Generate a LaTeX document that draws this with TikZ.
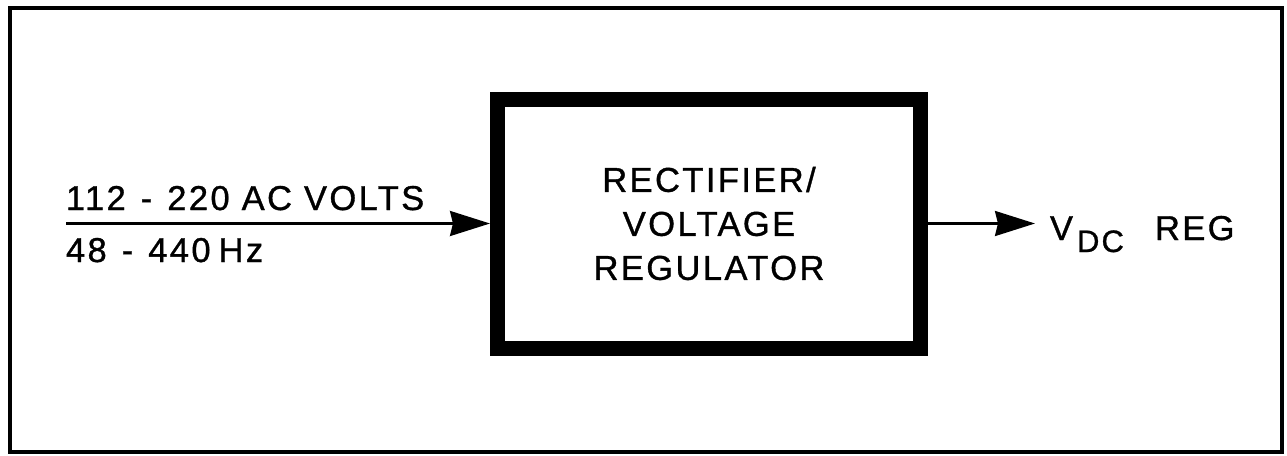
\documentclass[tikz,border=0pt]{standalone}
\usepackage{fontspec}
\setmainfont{Liberation Sans}[LetterSpace=7,FakeBold=1]
\usetikzlibrary{arrows.meta}
\tikzset{
  lbl/.style={inner sep=0pt, outer sep=0pt, font=\fontsize{34.5}{44}\selectfont},
  sublbl/.style={inner sep=0pt, outer sep=0pt, font=\fontsize{31}{34}\selectfont},
  block/.style={draw, line width=15pt, minimum width=423pt, minimum height=249pt, inner sep=0pt, align=center, font=\fontsize{34.5}{44}\selectfont},
  arr/.style={line width=2.5pt, -{Stealth[length=40pt,width=25pt,inset=3pt]}},
  frame/.style={line width=4pt}
}
\begin{document}
\begin{tikzpicture}[x=1pt,y=-1pt]
\useasboundingbox (0,0) rectangle (1287,455);
\draw[frame] (10,8) rectangle (1282,451.5);
\node[block] (box) at (709,223.5) {RECTIFIER/\\VOLTAGE\\REGULATOR};
\coordinate (start) at (66,223.5);
\coordinate (stop) at (1035,223.5);
\draw[arr] (start) -- (box.west);
\draw[arr] (box.east) -- (stop);
\node[lbl, anchor=base west] (ac) at (66,210) {112 \hspace{3pt}-\hspace{3pt} 220 AC VOLTS};
\node[lbl, anchor=base west] (hz) at (66,262) {48 \hspace{3pt}-\hspace{3pt} 440\hspace{-4pt} Hz};
\node[lbl, anchor=base west] (v) at (1050,240) {V};
\node[sublbl, anchor=base west] (dc) at (1077,252) {DC};
\node[lbl, anchor=base west] (reg) at (1155,240) {REG};
\end{tikzpicture}
\end{document}
